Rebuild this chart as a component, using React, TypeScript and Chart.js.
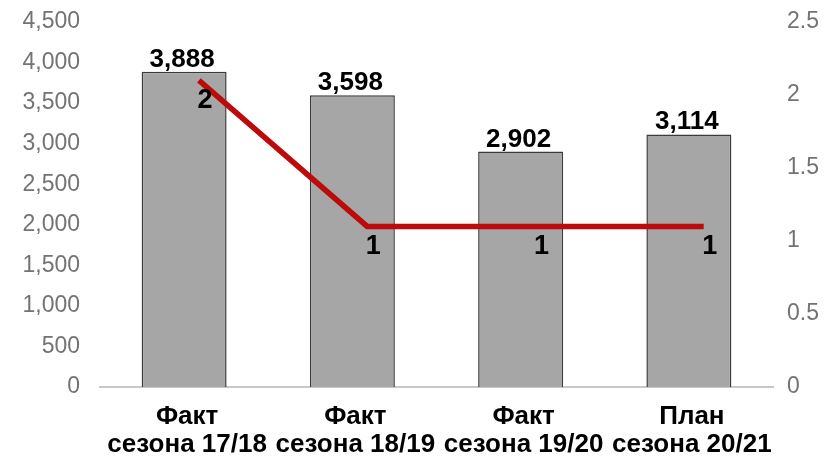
import React, { useEffect, useRef } from "react";
import { Chart, registerables } from "chart.js";

Chart.register(...registerables);

const categories: string[][] = [
  ["Факт", "сезона 17/18"],
  ["Факт", "сезона 18/19"],
  ["Факт", "сезона 19/20"],
  ["План", "сезона 20/21"],
];
const barValues: number[] = [3888, 3598, 2902, 3114];
const lineValues: number[] = [2.1, 1.1, 1.1, 1.1];
const leftTicks = { min: 0, max: 4500, step: 500 };
const rightTicks = { min: 0, max: 2.5, step: 0.5 };

const FONT = "'Liberation Sans', Arial, sans-serif";
const LINE_SHIFT = 0.088;

const lineShiftPlugin = {
  id: "lineShift",
  beforeDatasetDraw(chart: any, args: any) {
    if (chart.data.datasets[args.index].type === "line") {
      const x = chart.scales.x;
      const w = x.width / chart.data.labels.length;
      chart.ctx.save();
      chart.ctx.translate(w * LINE_SHIFT, 0);
    }
  },
  afterDatasetDraw(chart: any, args: any) {
    if (chart.data.datasets[args.index].type === "line") {
      chart.ctx.restore();
    }
  },
};

const labelsPlugin = {
  id: "valueLabels",
  afterDatasetsDraw(chart: any) {
    const ctx = chart.ctx;
    const x = chart.scales.x;
    const w = x.width / chart.data.labels.length;
    ctx.save();
    ctx.fillStyle = "#000000";
    ctx.textAlign = "center";
    ctx.textBaseline = "alphabetic";
    chart.data.datasets.forEach((ds: any, di: number) => {
      const meta = chart.getDatasetMeta(di);
      meta.data.forEach((el: any, i: number) => {
        const v = ds.data[i];
        if (ds.type === "bar") {
          ctx.font = `bold 26px ${FONT}`;
          ctx.fillText(v.toLocaleString("en-US"), el.x - 2, el.y - 5);
        } else {
          ctx.font = `bold 27px ${FONT}`;
          ctx.fillText(String(Math.round(v)), el.x + w * LINE_SHIFT + 6, el.y + 28);
        }
      });
    });
    // category labels
    ctx.font = `bold 26px ${FONT}`;
    const bottom = chart.chartArea.bottom;
    chart.data.labels.forEach((lab: string[], i: number) => {
      const px = x.getPixelForTick(i);
      lab.forEach((line: string, j: number) => {
        ctx.fillText(line, px + 3, bottom + 37 + j * 28);
      });
    });
    ctx.restore();
  },
};

export default function App() {
  const ref = useRef<HTMLCanvasElement | null>(null);
  useEffect(() => {
    if (!ref.current) return;
    const chart = new Chart(ref.current, {
      data: {
        labels: categories,
        datasets: [
          {
            type: "line",
            data: lineValues,
            yAxisID: "y2",
            borderColor: "#bd0a0a",
            borderWidth: 5.5,
            pointRadius: 0,
            tension: 0,
            order: 0,
          } as any,
          {
            type: "bar",
            data: barValues,
            yAxisID: "y",
            backgroundColor: "#a6a6a6",
            borderColor: "#3a3a3a",
            borderWidth: 1.5,
            categoryPercentage: 1,
            barPercentage: 0.505,
            order: 1,
          } as any,
        ],
      },
      options: {
        animation: false,
        responsive: false,
        maintainAspectRatio: false,
        layout: { padding: { top: 0, left: 0, right: 0, bottom: 0 } },
        plugins: { legend: { display: false }, tooltip: { enabled: false } },
        scales: {
          x: {
            offset: true,
            grid: { display: false },
            border: { display: true, color: "#c8c8c8", width: 2 },
            ticks: { display: false },
            afterFit(scale: any) {
              scale.height = 71;
            },
          },
          y: {
            position: "left",
            min: leftTicks.min,
            max: leftTicks.max,
            grid: { display: false },
            border: { display: false },
            ticks: {
              stepSize: leftTicks.step,
              color: "#737373",
              font: { family: FONT, size: 23 },
              padding: 12,
              callback: (v: any) => Number(v).toLocaleString("en-US"),
            },
            afterFit(scale: any) {
              scale.width = 100;
              scale.paddingTop = 22;
              scale.paddingBottom = 0;
            },
          },
          y2: {
            position: "right",
            min: rightTicks.min,
            max: rightTicks.max,
            grid: { display: false },
            border: { display: false },
            ticks: {
              stepSize: rightTicks.step,
              color: "#737373",
              font: { family: FONT, size: 23 },
              padding: 6,
              callback: (v: any) => String(v),
            },
            afterFit(scale: any) {
              scale.width = 52;
              scale.paddingTop = 22;
              scale.paddingBottom = 0;
            },
          },
        },
      } as any,
      plugins: [lineShiftPlugin, labelsPlugin],
    });
    return () => chart.destroy();
  }, []);
  return (
    <div style={{ position: "fixed", left: 0, top: 0, width: 825, height: 458, background: "#ffffff" }}>
      <canvas ref={ref} width={825} height={458} style={{ width: 825, height: 458 }} />
    </div>
  );
}
